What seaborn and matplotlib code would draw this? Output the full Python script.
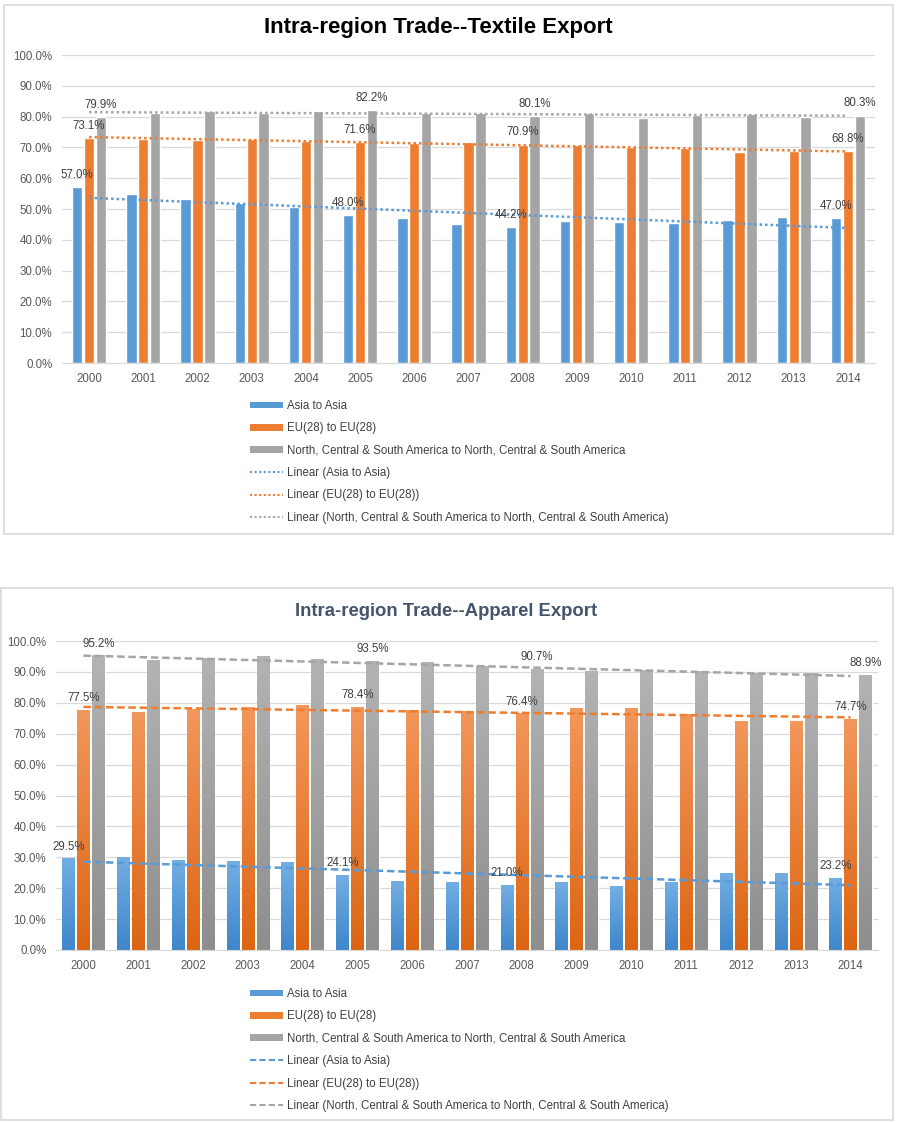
import numpy as np
import pandas as pd
import matplotlib
matplotlib.use('Agg')
import matplotlib.pyplot as plt
import seaborn as sns
from matplotlib.patches import Patch, Rectangle
from matplotlib.lines import Line2D
from matplotlib.ticker import PercentFormatter
from matplotlib.colors import to_rgb

# data (values in %)
years = [str(y) for y in range(2000, 2015)]
series_names = ['Asia to Asia', 'EU(28) to EU(28)',
                'North, Central & South America to North, Central & South America']

textile_asia = [57.0, 55.0, 53.4, 51.8, 50.6, 48.0, 47.1, 45.2, 44.2, 46.2, 45.9, 45.5, 46.4, 47.5, 47.0]
textile_eu = [73.1, 72.7, 72.5, 72.6, 72.1, 71.6, 71.4, 71.7, 70.9, 70.7, 70.1, 69.8, 68.5, 68.7, 68.8]
textile_am = [79.9, 81.3, 81.8, 81.3, 81.8, 82.2, 81.2, 81.2, 80.1, 81.1, 79.7, 80.4, 80.8, 80.0, 80.3]

apparel_asia = [29.5, 29.8, 29.0, 28.7, 28.4, 24.1, 22.3, 21.7, 21.0, 22.0, 20.7, 21.7, 24.6, 24.9, 23.2]
apparel_eu = [77.5, 76.7, 77.9, 78.5, 79.0, 78.4, 77.6, 77.1, 76.4, 78.3, 78.3, 76.3, 74.0, 74.0, 74.7]
apparel_am = [95.2, 93.6, 94.3, 95.1, 93.9, 93.5, 92.9, 91.8, 90.7, 90.0, 90.5, 90.2, 89.5, 89.5, 88.9]

label_years = ['2000', '2005', '2008', '2014']

colors = ['#5B9BD5', '#ED7D31', '#A5A5A5']
grad_top = ['#72AEE2', '#F2975C', '#B3B3B3']
grad_bot = ['#3F86CB', '#DD6512', '#8E8E8E']

sns.set_style('white')
plt.rcParams['font.family'] = ['Liberation Sans', 'DejaVu Sans']

W, H = 899, 1122
fig = plt.figure(figsize=(W / 100, H / 100), dpi=100)


def fx(px):
    return px / W


def fy(py):
    return 1 - py / H


def draw_chart(ax, asia, eu, am, width, gap, trend_ls, gradient):
    df = pd.DataFrame({
        'year': years * 3,
        'series': [s for s in series_names for _ in years],
        'value': asia + eu + am,
    })
    sns.barplot(data=df, x='year', y='value', hue='series', hue_order=series_names,
                palette=colors, saturation=1, width=width, gap=gap,
                errorbar=None, legend=False, ax=ax, zorder=2)

    if gradient:
        for k, cont in enumerate(ax.containers):
            grad = np.linspace(to_rgb(grad_top[k]), to_rgb(grad_bot[k]), 64)[:, None, :]
            for bar in cont:
                x0, w, h = bar.get_x(), bar.get_width(), bar.get_height()
                ax.imshow(grad, extent=(x0, x0 + w, 0, h), aspect='auto',
                          origin='upper', zorder=2.5, interpolation='bilinear')

    # Excel-like linear trendlines
    xs = np.arange(len(years))
    for k, vals in enumerate([asia, eu, am]):
        b, a = np.polyfit(xs, vals, 1)
        ax.plot(xs, a + b * xs, color=colors[k], ls=trend_ls, lw=1.8, zorder=3)

    # data labels
    for k, cont in enumerate(ax.containers):
        for y in label_years:
            bar = cont[years.index(y)]
            ax.annotate(f'{bar.get_height():.1f}%',
                        (bar.get_x() + bar.get_width() / 2, bar.get_height()),
                        xytext=(0, 4.5), textcoords='offset points',
                        ha='center', va='bottom', fontsize=8.3, color='#404040', zorder=4)

    ax.set_xlim(-0.5, len(years) - 0.5)
    ax.set_ylim(0, 100)
    ax.set_yticks(range(0, 101, 10))
    ax.yaxis.set_major_formatter(PercentFormatter(xmax=100, decimals=1))
    ax.set_xlabel('')
    ax.set_ylabel('')
    ax.yaxis.grid(True, color='#D9D9D9', lw=0.9)
    ax.set_axisbelow(True)
    for side in ['top', 'right', 'left']:
        ax.spines[side].set_visible(False)
    ax.spines['bottom'].set_color('#D9D9D9')
    ax.tick_params(axis='both', length=0, colors='#595959', labelsize=8.3)
    ax.tick_params(axis='x', pad=7)
    ax.tick_params(axis='y', pad=7)


def add_legend(top_px, trend_ls):
    handles = [Patch(facecolor=c, edgecolor='none') for c in colors]
    handles += [Line2D([], [], color=c, ls=trend_ls, lw=1.5) for c in colors]
    labels = series_names + [f'Linear ({s})' for s in series_names]
    fig.legend(handles, labels, loc='upper left', bbox_to_anchor=(fx(250), fy(top_px)),
               frameon=False, fontsize=8.3, labelcolor='#404040', handlelength=2.9,
               handleheight=0.5, handletextpad=0.35, labelspacing=0.9, borderaxespad=0,
               borderpad=0)


def add_box(x0, y0, x1, y1):
    fig.add_artist(Rectangle((fx(x0), fy(y1)), fx(x1) - fx(x0), fy(y0) - fy(y1),
                             transform=fig.transFigure, fill=False,
                             edgecolor='#D9D9D9', lw=1.2))


# textile chart
add_box(4, 5, 893, 534)
ax1 = fig.add_axes([fx(62), fy(363), fx(875) - fx(62), fy(55) - fy(363)])
draw_chart(ax1, textile_asia, textile_eu, textile_am, width=0.66, gap=0.14,
           trend_ls=(0, (1, 1.2)), gradient=False)
fig.text(fx(438), fy(27), 'Intra-region Trade--Textile Export', ha='center', va='center',
         fontsize=16, fontweight='bold', color='black')
add_legend(400, (0, (1, 1.2)))

# apparel chart
add_box(1, 588, 893, 1120)
ax2 = fig.add_axes([fx(56), fy(950), fx(878) - fx(56), fy(641) - fy(950)])
draw_chart(ax2, apparel_asia, apparel_eu, apparel_am, width=0.82, gap=0.17,
           trend_ls=(0, (3, 1.5)), gradient=True)
fig.text(fx(446), fy(611), 'Intra-region Trade--Apparel Export', ha='center', va='center',
         fontsize=13.3, fontweight='bold', color='#44546A')
add_legend(988, (0, (3, 1.5)))

fig.savefig('out.png', dpi=100)
